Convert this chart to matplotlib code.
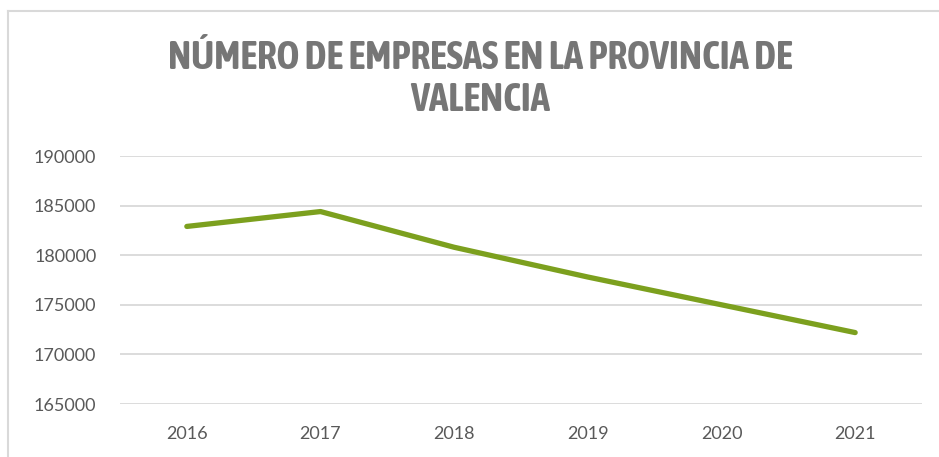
import matplotlib
matplotlib.use("Agg")
import matplotlib.pyplot as plt
from matplotlib import font_manager as fm
from matplotlib.lines import Line2D

years = ["2016", "2017", "2018", "2019", "2020", "2021"]
empresas = [182900, 184400, 180800, 177800, 175000, 172200]
yticks = [165000, 170000, 175000, 180000, 185000, 190000]
title_text = "NÚMERO DE EMPRESAS EN LA PROVINCIA DE\nVALENCIA"

# pick a condensed font if one is installed
title_font = None
title_stretch = "normal"
for f in fm.fontManager.ttflist:
    nm = f.name.lower()
    if ("condensed" in nm or "narrow" in nm) and f.weight in ("bold", 700):
        title_font = f.name
        break
if title_font is None:
    for f in fm.fontManager.ttflist:
        if f.stretch in ("condensed", "semi-condensed", "extra-condensed") or (
                isinstance(f.stretch, int) and f.stretch < 500):
            title_font = f.name
            title_stretch = f.stretch
            break
if title_font is None:
    names = {f.name for f in fm.fontManager.ttflist}
    title_font = "Roboto" if "Roboto" in names else "DejaVu Sans"
names = {f.name for f in fm.fontManager.ttflist}
tick_font = "Lato" if "Lato" in names else "DejaVu Sans"

W, H = 939, 457
fig = plt.figure(figsize=(W / 100, H / 100), dpi=100)
ax = fig.add_axes([120 / W, 1 - 404 / H, (922 - 120) / W, (404 - 156) / H])

x = list(range(len(years)))
ax.plot(x, empresas, color="#7ca01e", linewidth=3.8, solid_capstyle="round",
        solid_joinstyle="round", zorder=3)

ax.set_xlim(-0.5, len(years) - 0.5)
ax.set_ylim(yticks[0], yticks[-1])
ax.set_yticks(yticks)
ax.set_yticklabels([str(v) for v in yticks])
ax.set_xticks(x)
ax.set_xticklabels(years)
ax.grid(axis="y", color="#d9d9d9", linewidth=1.3)
ax.set_axisbelow(True)
for s in ax.spines.values():
    s.set_visible(False)
ax.tick_params(axis="both", length=0, labelcolor="#595959", labelsize=13)
ax.tick_params(axis="y", pad=17)
ax.tick_params(axis="x", pad=16)
for lab in ax.get_xticklabels() + ax.get_yticklabels():
    lab.set_fontfamily(tick_font)

# chart frame (left and top borders)
fig.add_artist(Line2D([8 / W, 8 / W], [0, 1 - 11 / H], transform=fig.transFigure,
                      color="#d9d9d9", linewidth=1.5))
fig.add_artist(Line2D([8 / W, 938 / W], [1 - 11 / H, 1 - 11 / H], transform=fig.transFigure,
                      color="#d9d9d9", linewidth=1.5))

t = fig.text(480 / W, 1 - 79 / H, title_text,
             ha="center", va="center", fontsize=27, fontweight="bold",
             family=title_font, stretch=title_stretch, color="#767676",
             linespacing=1.15, multialignment="center")
# fit title width to the reference (~620 px)
fig.canvas.draw()
r = fig.canvas.get_renderer()
w = t.get_window_extent(r).width
t.set_fontsize(min(30, 27 * 625 / w))

fig.savefig("out.png", dpi=100, facecolor="white")
